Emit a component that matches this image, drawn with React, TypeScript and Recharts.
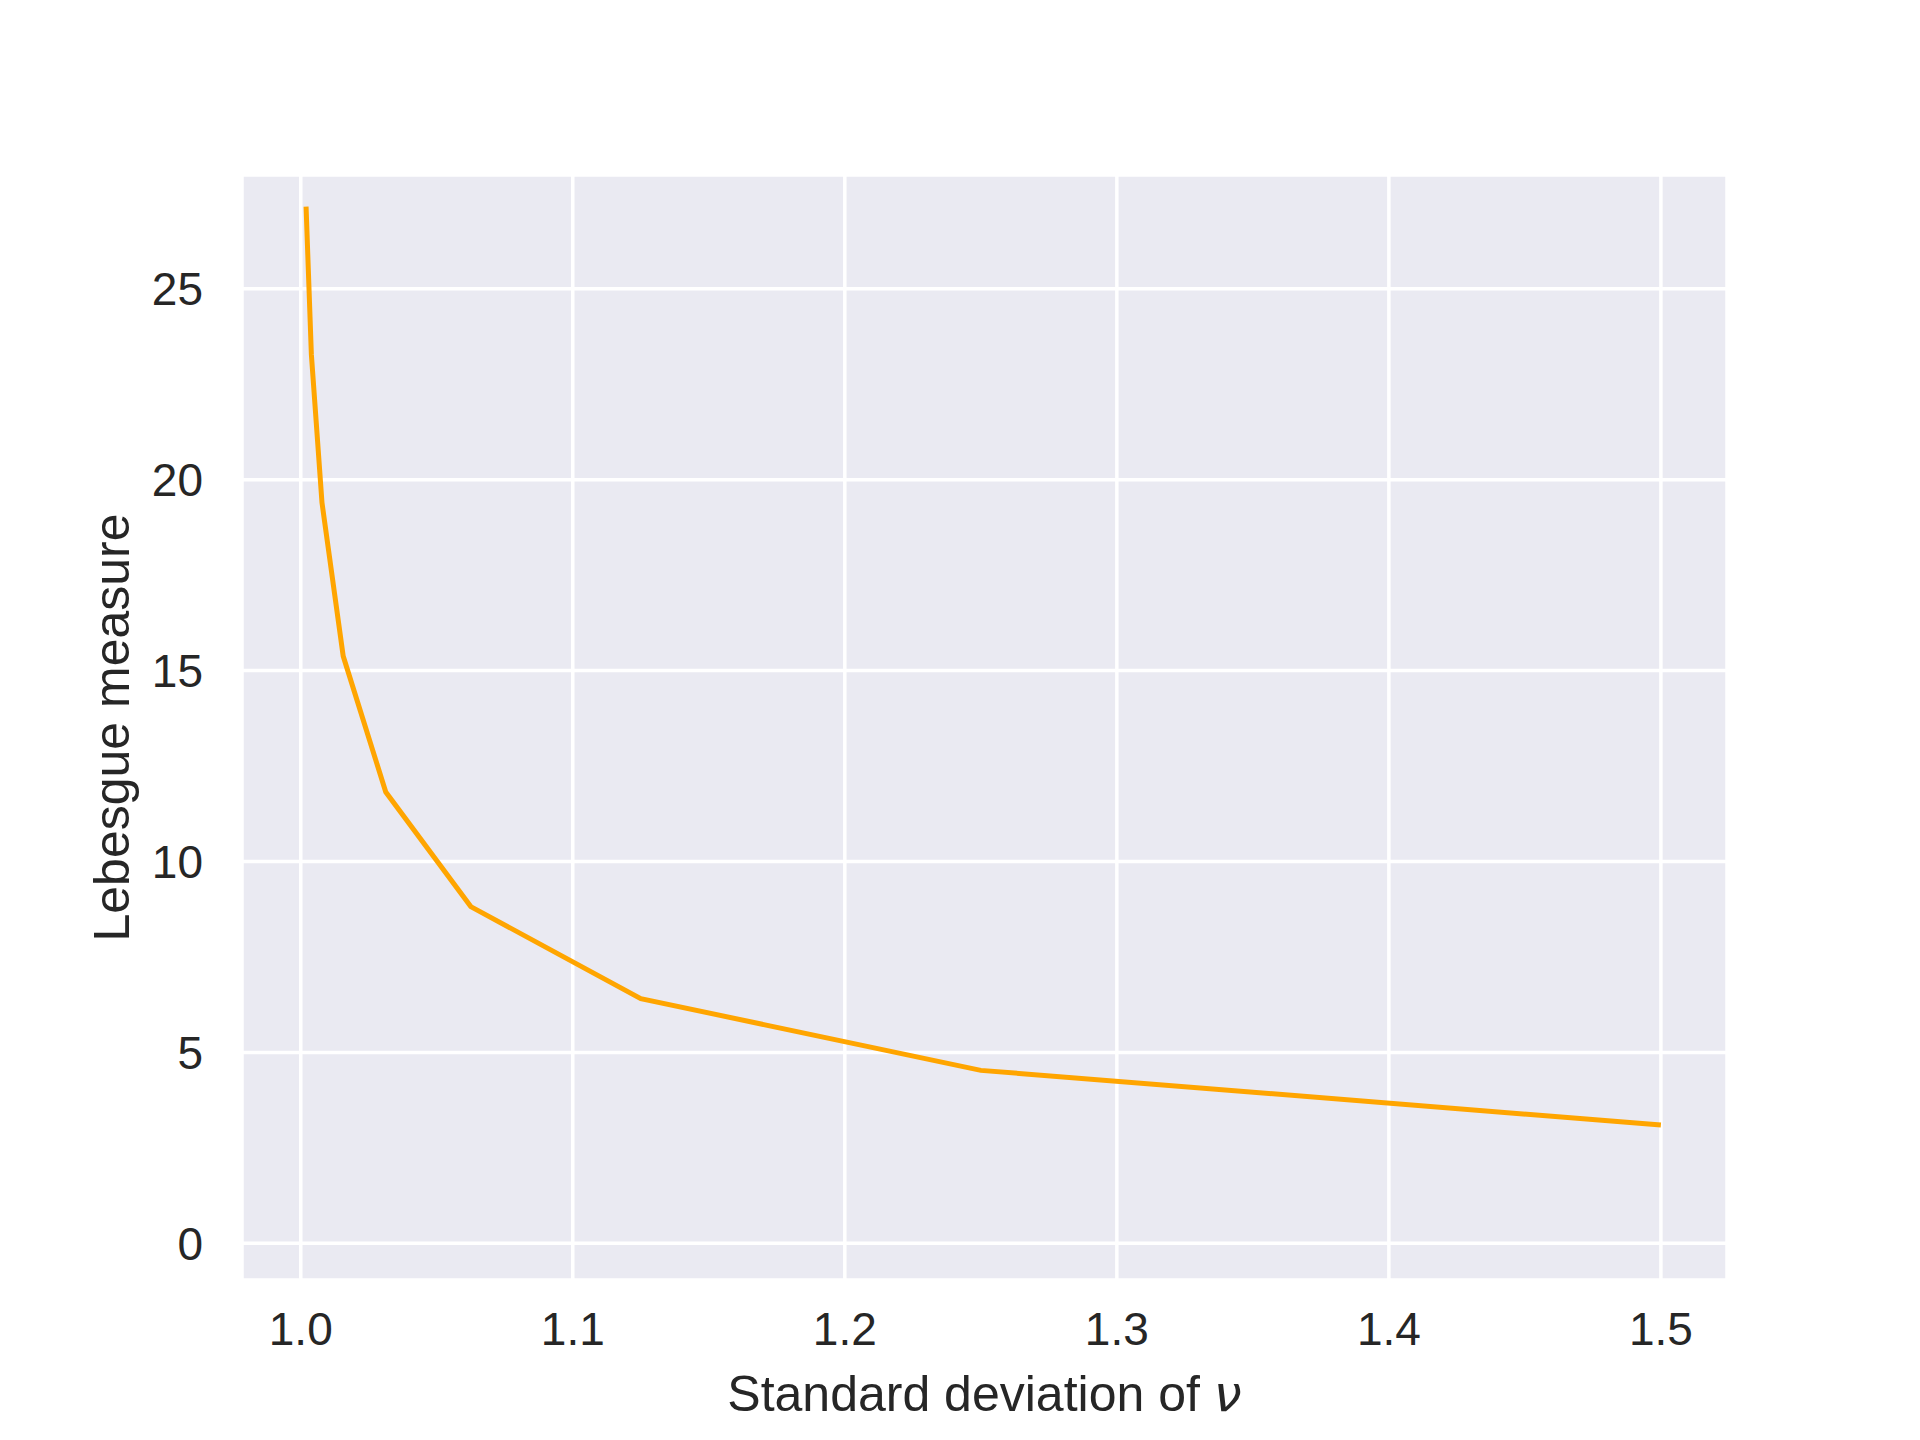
import { LineChart, Line, XAxis, YAxis, CartesianGrid, Label } from 'recharts';

// standard deviation of nu (x) and the Lebesgue measure (y)
const sigma = [1.00195, 1.0039, 1.0078, 1.0156, 1.03125, 1.0625, 1.125, 1.25, 1.5];
const lebesgue = [27.15, 23.28, 19.4, 15.38, 11.82, 8.82, 6.41, 4.53, 3.1];

const xTicks = [1.0, 1.1, 1.2, 1.3, 1.4, 1.5];
const yTicks = [0, 5, 10, 15, 20, 25];

const data = sigma.map((s, i) => ({ sigma: s, measure: lebesgue[i] }));

const FONT = '"Liberation Sans", Arial, sans-serif';
const TEXT = '#262626';

const XTitle = ({ viewBox }) => {
  const cx = viewBox.x + viewBox.width / 2;
  return (
    <text x={cx} y={1411} textAnchor="middle" fill={TEXT} fontSize={50} fontFamily={FONT}>
      Standard deviation of{' '}
      <tspan fontStyle="italic" fontFamily='"DejaVu Sans", sans-serif'>ν</tspan>
    </text>
  );
};

const App = () => {
  return (
    <div style={{ position: 'absolute', left: 0, top: 0, width: 1920, height: 1440, background: '#fff' }}>
      <LineChart
        width={1920}
        height={1440}
        data={data}
        margin={{ top: 175, right: 193, left: 142, bottom: 100 }}
      >
        <CartesianGrid fill="#EAEAF2" fillOpacity={1} stroke="#ffffff" strokeWidth={3.5} />
        <XAxis
          dataKey="sigma"
          type="number"
          domain={[0.9784, 1.5243]}
          allowDataOverflow
          ticks={xTicks}
          tickFormatter={(v) => v.toFixed(1)}
          axisLine={false}
          tickLine={false}
          tickSize={0}
          tickMargin={32}
          height={60}
          tick={{ fontSize: 46, fill: TEXT, fontFamily: FONT }}
        >
          <Label content={XTitle} position="bottom" />
        </XAxis>
        <YAxis
          type="number"
          domain={[-0.96, 27.98]}
          allowDataOverflow
          ticks={yTicks}
          axisLine={false}
          tickLine={false}
          tickSize={0}
          tickMargin={39}
          width={100}
          tick={{ fontSize: 46, fill: TEXT, fontFamily: FONT }}
        >
          <Label
            value="Lebesgue measure"
            angle={-90}
            position="left"
            offset={30.5}
            style={{ textAnchor: 'middle', fontSize: 50, fill: TEXT, fontFamily: FONT }}
          />
        </YAxis>
        <Line
          type="linear"
          dataKey="measure"
          stroke="#FFA500"
          strokeWidth={5}
          dot={false}
          isAnimationActive={false}
        />
      </LineChart>
    </div>
  );
};

export default App;
